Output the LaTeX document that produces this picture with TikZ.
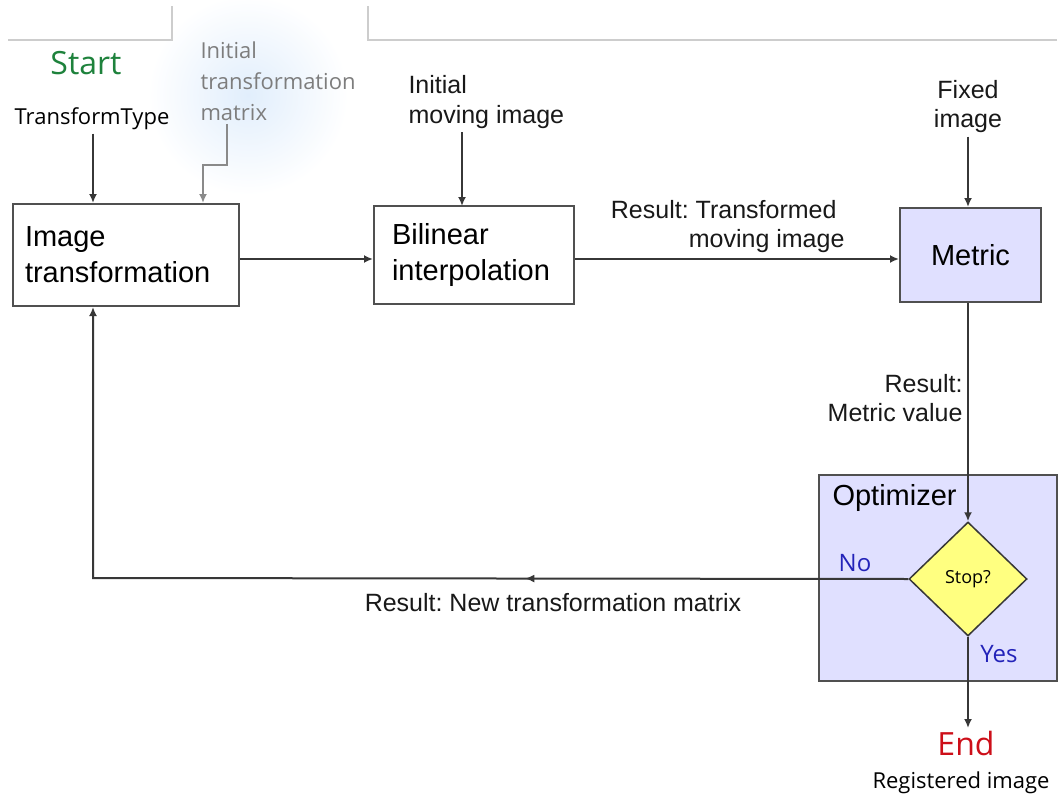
\documentclass[tikz,border=0pt]{standalone}
\usepackage{fontspec}
\setmainfont{Liberation Sans}
\newfontfamily\segoe{Open Sans}
\usetikzlibrary{arrows.meta,shapes.geometric,decorations.markings}
\definecolor{lin}{RGB}{55,55,55}
\definecolor{boxc}{RGB}{80,80,80}
\definecolor{lav}{RGB}{224,224,255}
\definecolor{yel}{RGB}{255,255,128}
\definecolor{startg}{RGB}{30,130,60}
\definecolor{endr}{RGB}{205,15,25}
\definecolor{yn}{RGB}{35,35,185}
\definecolor{tabc}{RGB}{205,205,205}
\definecolor{glowc}{RGB}{225,238,252}
\definecolor{grtxt}{RGB}{125,125,125}
\frenchspacing
\begin{document}
\begin{tikzpicture}[x=1pt,y=-1pt,
  boxt/.style={draw=boxc,line width=2pt,inner ysep=0pt,font=\fontsize{29}{36}\selectfont},
  lbl/.style={font=\fontsize{25}{29}\selectfont,text=black!90},
  seg/.style={font=\segoe\fontsize{22}{31}\selectfont},
  arr/.style={draw=lin,line width=2pt,-{Latex[length=9pt,width=8pt]}},
  garr/.style={draw=grtxt!90,line width=2pt,-{Latex[length=9pt,width=8pt]}},
  midarr/.style={postaction={decorate},decoration={markings,mark=at position 383pt with {\arrow{Latex[length=9pt,width=8pt]}}}}]
\useasboundingbox (0,0) rectangle (1061,795);
\fill[white] (0,0) rectangle (1061,795);
% glow behind the grey label
\shade[inner color=glowc,outer color=white] (248,95) circle (100);
% tab lines
\draw[tabc,line width=1.5pt] (8,40) -- (172,40) -- (172,6);
\draw[tabc,line width=1.5pt] (368,6) -- (368,40) -- (1057,40);

% boxes
\node[boxt,minimum width=226,minimum height=102,text width=202,inner xsep=12,align=left] (imgt) at (126,255) {Image\\transformation};
\node[boxt,minimum width=200,minimum height=98,text width=164,inner xsep=18,align=left] (bil) at (474,255) {Bilinear\\interpolation};
\node[boxt,fill=lav,minimum width=141,minimum height=94] (met) at (970.5,255) {Metric};
\node[draw=boxc,fill=lav,line width=2pt,minimum width=238,minimum height=206] (opt) at (938,578) {};
\node[anchor=west,font=\fontsize{29}{36}\selectfont] (optl) at (829,498) {Optimizer};
\node[diamond,draw=lin,fill=yel,line width=1.5pt,minimum width=118,minimum height=114,inner sep=0pt,font=\segoe\fontsize{18}{20}\selectfont] (stop) at (968,579) {Stop?};

% top labels
\node[seg,text=startg,font=\segoe\fontsize{32}{36}\selectfont] (start) at (86,63) {Start};
\node[seg] (tt) at (92,119) {TransformType};
\node[seg,text=grtxt,anchor=west,align=left] (itm) at (197,81) {Initial\\transformation\\matrix};
\node[lbl,anchor=west,align=left,font=\fontsize{25}{30}\selectfont] (imi) at (405,102) {Initial\\moving image};
\node[lbl,align=center] (fix) at (968,107) {Fixed\\image};

% edge labels
\node[lbl,align=right,anchor=east] (lres1) at (848,227) {Result: Transformed\hspace*{8pt}\\moving image};
\node[lbl,align=right,anchor=east] (lres2) at (966,398) {Result:\\Metric value};
\node[lbl] (lres3) at (553,603) {Result: New transformation matrix};
\node[seg,text=yn,font=\segoe\fontsize{24}{30}\selectfont] (no) at (855,563) {No};
\node[seg,text=yn,font=\segoe\fontsize{24}{30}\selectfont] (yes) at (999,654) {Yes};
\node[text=endr,font=\segoe\fontsize{32}{36}\selectfont] (endn) at (966,743) {End};
\node[seg] (reg) at (961,783) {Registered image};

% coordinates
\coordinate (g1) at (227,165);
\coordinate (g2) at (203,165);
\coordinate (bilin) at (462,206);
\coordinate (endtip) at (968,728);
\coordinate (fbk) at (93,578);

% connectors
\draw[arr] (tt.south -| fbk) -- (fbk |- imgt.north);
\draw[garr] (itm.south -| g1) -- (g1) -- (g2) -- (g2 |- imgt.north);
\draw[arr] (imi.south -| bilin) -- (bilin);
\draw[arr] (fix.south) -- (fix.south |- met.north);
\draw[arr] (imgt.east |- 0,259) -- (bil.west |- 0,259);
\draw[arr] (bil.east |- 0,259) -- (met.west |- 0,259);
\draw[arr] (stop.north |- met.south) -- (stop.north);
\draw[arr] (stop.south) -- (endtip);
\draw[arr,midarr] (stop.west) -- (fbk) -- (fbk |- imgt.south);
\end{tikzpicture}
\end{document}
